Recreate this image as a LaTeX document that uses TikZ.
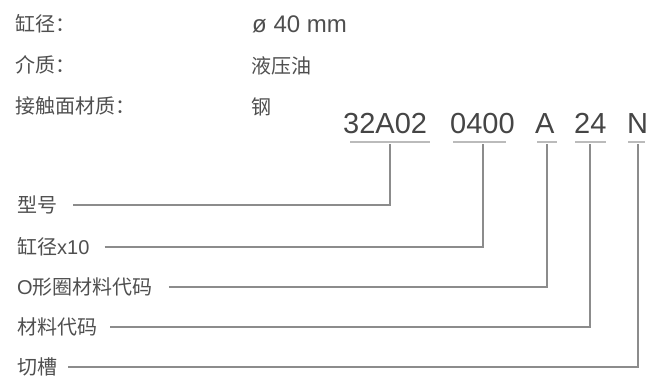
\documentclass[tikz,border=0pt]{standalone}
\usepackage{fontspec}
\setmainfont{Liberation Sans}
\newfontfamily\cjk{Noto Sans CJK SC}
\definecolor{txtgray}{HTML}{4F4F4F}
\definecolor{codegray}{HTML}{454545}
\definecolor{linegray}{HTML}{8C8C8C}
\definecolor{ulgray}{HTML}{BBBBBB}
\begin{document}
\begin{tikzpicture}[x=1pt,y=-1pt,
  lbl/.style={anchor=west,inner xsep=0pt,inner ysep=0pt,text=txtgray,font=\cjk\fontsize{20}{20}\selectfont},
  val/.style={anchor=west,inner sep=0pt,text=txtgray,font=\cjk\fontsize{20}{20}\selectfont},
  codeseg/.style={anchor=base west,inner sep=0pt,text=codegray,font=\fontsize{29}{29}\selectfont},
  conn/.style={draw=linegray,line width=1.6pt},
  uline/.style={draw=ulgray,line width=1.5pt}]
\useasboundingbox (0,0) rectangle (650,376);
% top specification rows
\node[lbl] (k1) at (15,24) {缸径：};
\node[lbl] (k2) at (15,65) {介质：};
\node[lbl] (k3) at (15,106) {接触面材质：};
\node[val,font=\fontsize{24}{24}\selectfont] (v1) at (252,24) {ø 40 mm};
\node[val] (v2) at (251,66) {液压油};
\node[val] (v3) at (251,107) {钢};
% code segments
\node[codeseg] (c1) at (343,133) {32A02};
\node[codeseg] (c2) at (450,133) {0400};
\node[codeseg] (c3) at (535,133) {A};
\node[codeseg] (c4) at (574,133) {24};
\node[codeseg] (c5) at (627,133) {N};
% underlines
\coordinate (u1a) at (350,142); \coordinate (u1b) at (430,142);
\coordinate (u2a) at (453,142); \coordinate (u2b) at (506,142);
\coordinate (u3a) at (537,142); \coordinate (u3b) at (557,142);
\coordinate (u4a) at (575,142); \coordinate (u4b) at (606,142);
\coordinate (u5a) at (628,142); \coordinate (u5b) at (645,142);
\draw[uline] (u1a) -- (u1b);
\draw[uline] (u2a) -- (u2b);
\draw[uline] (u3a) -- (u3b);
\draw[uline] (u4a) -- (u4b);
\draw[uline] (u5a) -- (u5b);
% connector tops
\coordinate (t1) at (390,144);
\coordinate (t2) at (483,144);
\coordinate (t3) at (547,144);
\coordinate (t4) at (590,144);
\coordinate (t5) at (638,144);
% bottom labels
\node[lbl] (l1) at (17,205) {型号};
\node[lbl] (l2) at (17,247) {缸径\fontspec{Liberation Sans}x10};
\node[lbl] (l3) at (17,287) {\fontspec{Liberation Sans}O\cjk 形圈材料代码};
\node[lbl] (l4) at (17,327) {材料代码};
\node[lbl] (l5) at (17,367) {切槽};
% connectors
\draw[conn] ([xshift=16pt]l1.east) -| (t1);
\draw[conn] ([xshift=15pt]l2.east) -| (t2);
\draw[conn] ([xshift=16pt]l3.east) -| (t3);
\draw[conn] ([xshift=13pt]l4.east) -| (t4);
\draw[conn] ([xshift=11pt]l5.east) -| (t5);
\end{tikzpicture}
\end{document}
